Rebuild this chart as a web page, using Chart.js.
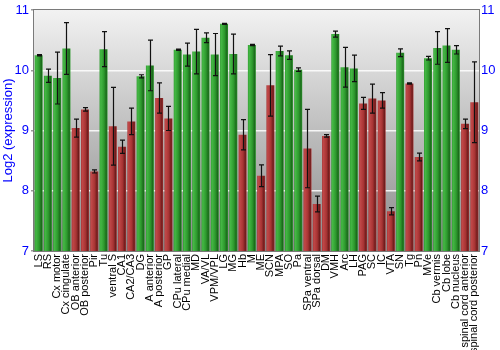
<!DOCTYPE html>
<html>
<head>
<meta charset="utf-8">
<title>Log2 expression by region</title>
<script src="https://cdn.jsdelivr.net/npm/chart.js@4.4.0/dist/chart.umd.min.js"></script>
<style>
  body { margin: 0; background: #fff; }
  canvas { display: block; }
</style>
</head>
<body>
<canvas id="exprChart" width="500" height="350"></canvas>
<script>
// brain regions, in plotting order
const regions = [
    'LS', 'RS', 'Cx motor', 'Cx cingulate', 'OB anterior', 'OB posterior', 'Pir', 'Tu',
    'ventral S', 'CA1', 'CA2/CA3', 'DG', 'A anterior', 'A posterior', 'GP', 'CPu lateral',
    'CPu medial', 'MD', 'VA/VL', 'VPM/VPL', 'LG', 'MG', 'Hb', 'M', 'ME', 'SCN', 'MPA', 'SO',
    'Pa', 'SPa ventral', 'SPa dorsal', 'DM', 'VMH', 'Arc', 'LH', 'PAG', 'SC', 'IC', 'VTA',
    'SN', 'Tg', 'Pn', 'MVe', 'Cb vermis', 'Cb lobe', 'Cb nucleus', 'spinal cord anterior',
    'spinal cord posterior'
];

// mean log2 expression per region
const expression = [
    10.25, 9.91, 9.87, 10.36, 9.04, 9.35, 8.32, 10.35,
    9.07, 8.73, 9.15, 9.90, 10.08, 9.54, 9.20, 10.34,
    10.26, 10.31, 10.54, 10.26, 10.77, 10.27, 8.93, 10.42, 8.25, 9.75, 10.32, 10.25,
    10.01, 8.70, 7.78, 8.91, 10.60, 10.05, 10.03, 9.45, 9.53, 9.50, 7.66,
    10.29, 9.78, 8.56, 10.20, 10.37, 10.41, 10.34, 9.11,
    9.47
];

// error bar half-heights
const errors = [
    0.01, 0.11, 0.43, 0.43, 0.15, 0.03, 0.025, 0.29,
    0.645, 0.11, 0.22, 0.025, 0.42, 0.25, 0.20, 0.01,
    0.19, 0.37, 0.08, 0.35, 0.01, 0.33, 0.25, 0.01, 0.18, 0.51, 0.08, 0.07,
    0.03, 0.65, 0.13, 0.02, 0.05, 0.33, 0.22, 0.10, 0.24, 0.13, 0.06,
    0.065, 0.01, 0.065, 0.03, 0.27, 0.28, 0.07, 0.08,
    0.67
];

const yTicks = [7, 8, 9, 10, 11];

// regions at or above this level are drawn green, the rest red
const HIGH_LEVEL = 9.8;

const green = { light: '#45b845', mid: '#2e9a2e', dark: '#1b6a1b' };
const red = { light: '#c04848', mid: '#a83434', dark: '#6e1c1c' };

const BAR_PCT = 0.86;

function barFill(ctx) {
    const chart = ctx.chart;
    const pal = expression[ctx.dataIndex] >= HIGH_LEVEL ? green : red;
    const xScale = chart.scales.x;
    if (!chart.chartArea || !xScale) return pal.mid;
    const cx = xScale.getPixelForValue(ctx.dataIndex);
    const half = (chart.chartArea.width / regions.length) * BAR_PCT / 2;
    const g = chart.ctx.createLinearGradient(cx - half, 0, cx + half, 0);
    g.addColorStop(0, pal.mid);
    g.addColorStop(0.15, pal.light);
    g.addColorStop(0.55, pal.mid);
    g.addColorStop(0.85, pal.dark);
    g.addColorStop(1, pal.mid);
    return g;
}

// grey gradient behind the plot, frame on top
const plotFrame = {
    id: 'plotFrame',
    beforeDraw(chart) {
        const { ctx, chartArea: a } = chart;
        ctx.save();
        ctx.fillStyle = '#ffffff';
        ctx.fillRect(0, 0, chart.width, chart.height);
        const g = ctx.createLinearGradient(0, a.top, 0, a.bottom);
        g.addColorStop(0, '#f2f2f2');
        g.addColorStop(1, '#8a8a8a');
        ctx.fillStyle = g;
        ctx.fillRect(a.left, a.top, a.right - a.left, a.bottom - a.top);
        ctx.restore();
    },
    afterDraw(chart) {
        const { ctx, chartArea: a } = chart;
        ctx.save();
        ctx.strokeStyle = '#7a7a7a';
        ctx.lineWidth = 1;
        ctx.strokeRect(a.left - 0.5, a.top - 0.5, a.right - a.left + 1, a.bottom - a.top + 1);
        ctx.restore();
    }
};

// error bars drawn through the y scale
const errorBars = {
    id: 'errorBars',
    afterDatasetsDraw(chart) {
        const { ctx } = chart;
        const y = chart.scales.y;
        const meta = chart.getDatasetMeta(0);
        ctx.save();
        ctx.strokeStyle = '#111111';
        ctx.lineWidth = 1.2;
        meta.data.forEach((bar, i) => {
            const top = y.getPixelForValue(expression[i] + errors[i]);
            const bot = y.getPixelForValue(expression[i] - errors[i]);
            const x = Math.round(bar.x) + 0.5;
            ctx.beginPath();
            ctx.moveTo(x, top);
            ctx.lineTo(x, bot);
            ctx.moveTo(x - 2.5, top);
            ctx.lineTo(x + 2.5, top);
            ctx.moveTo(x - 2.5, bot);
            ctx.lineTo(x + 2.5, bot);
            ctx.stroke();
        });
        ctx.restore();
    }
};

const tickFont = { family: 'Liberation Sans, Arial, sans-serif', size: 13 };

function gridColor(c) {
    const v = c.tick && c.tick.value;
    return (v > 7 && v < 11) ? 'rgba(255,255,255,0.85)' : 'rgba(0,0,0,0)';
}

new Chart(document.getElementById('exprChart'), {
    type: 'bar',
    data: {
        labels: regions,
        datasets: [{
            data: expression,
            backgroundColor: barFill,
            borderWidth: 0,
            barPercentage: BAR_PCT,
            categoryPercentage: 1.0
        }]
    },
    options: {
        responsive: false,
        animation: false,
        layout: { padding: { top: 10, left: 0, right: 0, bottom: 0 } },
        plugins: {
            legend: { display: false },
            tooltip: { enabled: false }
        },
        scales: {
            x: {
                grid: { display: false, drawTicks: false },
                border: { display: false },
                ticks: {
                    autoSkip: false,
                    maxRotation: 90,
                    minRotation: 90,
                    padding: 3,
                    color: '#000',
                    font: { family: 'Liberation Sans, Arial, sans-serif', size: 11 }
                },
                afterFit(scale) { scale.height = 99; }
            },
            y: {
                position: 'left',
                min: 7,
                max: 11,
                afterBuildTicks(scale) { scale.ticks = yTicks.map(v => ({ value: v })); },
                ticks: { color: '#0000ff', font: tickFont, padding: 2 },
                grid: { color: gridColor, lineWidth: 1.5, tickLength: 3, tickColor: '#9a9a9a' },
                border: { display: false },
                title: {
                    display: true,
                    text: 'Log2 (expression)',
                    color: '#0000ff',
                    font: { family: 'Liberation Sans, Arial, sans-serif', size: 13 },
                    padding: { top: 1, bottom: 0 }
                },
                afterFit(scale) { scale.width = 34; }
            },
            y2: {
                position: 'right',
                min: 7,
                max: 11,
                afterBuildTicks(scale) { scale.ticks = yTicks.map(v => ({ value: v })); },
                ticks: { color: '#0000ff', font: tickFont, padding: 2 },
                grid: { drawOnChartArea: false, tickLength: 0 },
                border: { display: false },
                afterFit(scale) { scale.width = 21; }
            }
        }
    },
    plugins: [plotFrame, errorBars]
});
</script>
</body>
</html>
